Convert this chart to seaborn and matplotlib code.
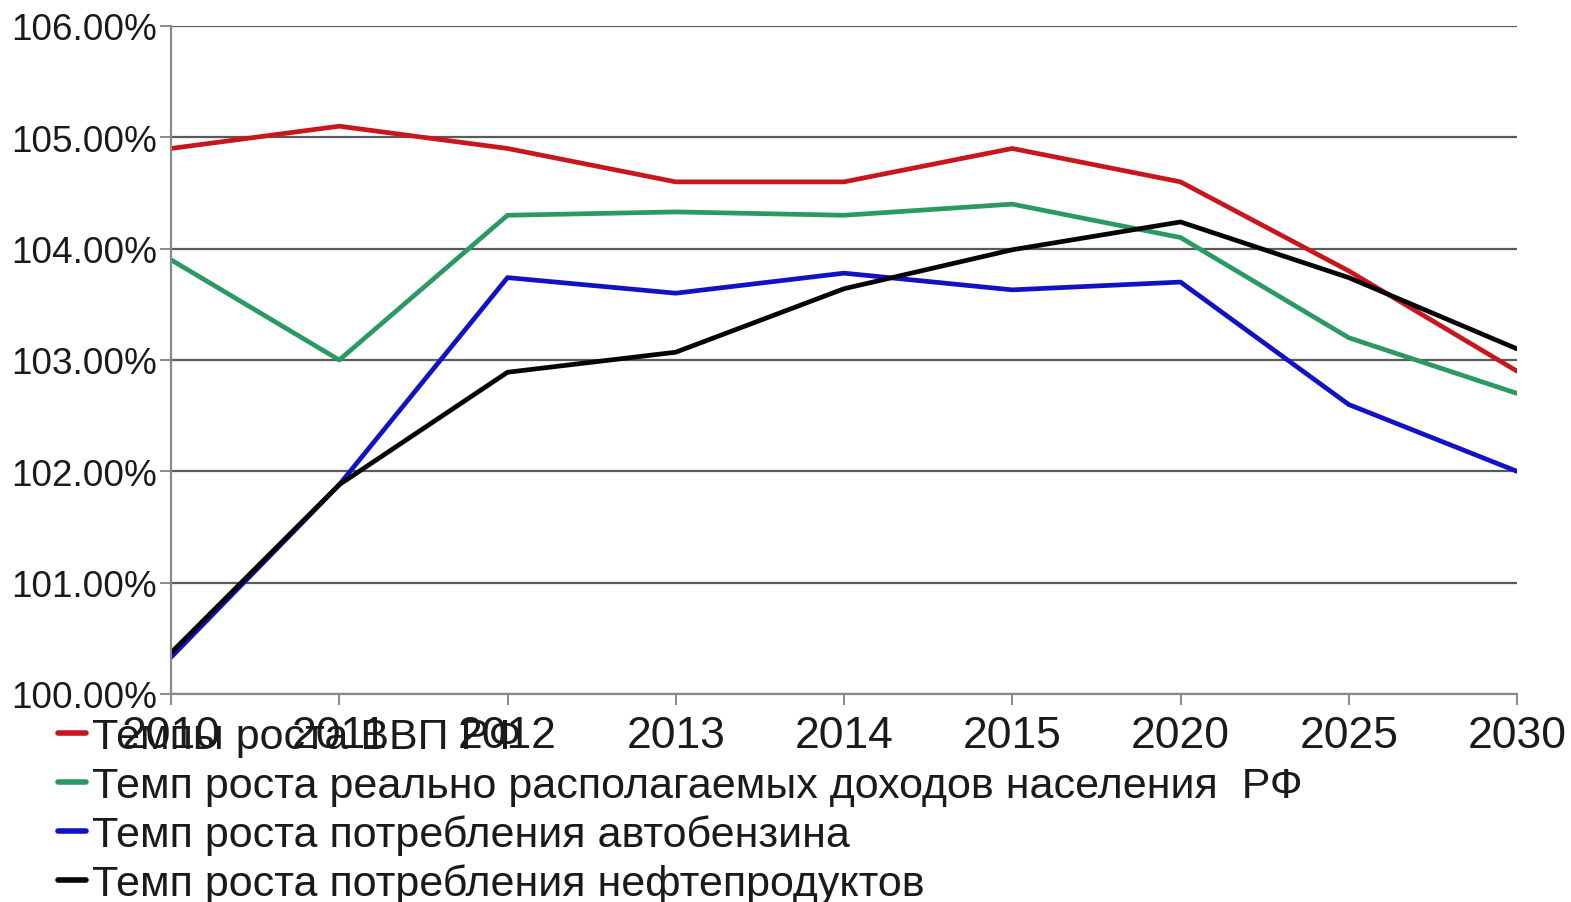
import matplotlib
matplotlib.use("Agg")
import matplotlib.pyplot as plt
import seaborn as sns
import pandas as pd
from matplotlib.ticker import FuncFormatter
from matplotlib.lines import Line2D

years = ["2010", "2011", "2012", "2013", "2014", "2015", "2020", "2025", "2030"]
gdp = [104.90, 105.10, 104.90, 104.60, 104.60, 104.90, 104.60, 103.80, 102.90]
income = [103.90, 103.00, 104.30, 104.33, 104.30, 104.40, 104.10, 103.20, 102.70]
gasoline = [100.33, 101.88, 103.74, 103.60, 103.78, 103.63, 103.70, 102.60, 102.00]
oil_products = [100.37, 101.88, 102.89, 103.07, 103.64, 103.99, 104.24, 103.74, 103.10]

series_names = [
    "Темпы роста ВВП РФ",
    "Темп роста реально располагаемых доходов населения  РФ",
    "Темп роста потребления автобензина",
    "Темп роста потребления нефтепродуктов",
]
series_values = [gdp, income, gasoline, oil_products]
colors = ["#C8161D", "#2A9A62", "#1212C4", "#050505"]

rows = []
for name, vals in zip(series_names, series_values):
    for i, (y, v) in enumerate(zip(years, vals)):
        rows.append({"pos": i, "year": y, "series": name, "value": v})
df = pd.DataFrame(rows)

sns.set_theme(style="white")
plt.rcParams["font.family"] = ["Liberation Sans", "DejaVu Sans"]

fig = plt.figure(figsize=(15.71, 9.03), dpi=100)
ax = fig.add_axes([171 / 1571, 1 - 695 / 903, (1517 - 171) / 1571, (695 - 27) / 903])

sns.lineplot(data=df, x="pos", y="value", hue="series",
             hue_order=series_names, palette=colors, linewidth=3.4, ax=ax,
             legend=False, sort=False)

ax.set_xlim(0, len(years) - 1)
ax.set_ylim(100, 106)
ax.set_xticks(range(len(years)))
ax.set_xticklabels(years)
ax.set_yticks([100, 101, 102, 103, 104, 105, 106])
ax.yaxis.set_major_formatter(FuncFormatter(lambda v, p: f"{v:.2f}%"))
ax.set_xlabel("")
ax.set_ylabel("")

ax.grid(axis="y", color="#5a5a5a", linewidth=1.6)
ax.grid(axis="x", visible=False)
ax.set_axisbelow(True)
for s in ["top", "right"]:
    ax.spines[s].set_visible(False)
for s in ["left", "bottom"]:
    ax.spines[s].set_color("#8a8a8a")
    ax.spines[s].set_linewidth(1.6)

ax.tick_params(axis="y", which="major", direction="out", length=8, width=1.4,
               color="#8a8a8a", labelsize=26.6, pad=2, left=True, labelcolor="#1a1a1a")
ax.tick_params(axis="x", which="major", direction="out", length=8, width=1.4,
               color="#8a8a8a", labelsize=32, pad=7, bottom=True, labelcolor="#1a1a1a")

handles = [Line2D([0], [0], color=c, linewidth=4) for c in colors]
fig.legend(handles, series_names, loc="upper left", bbox_to_anchor=(58 / 1571, 1 - 718 / 903),
           frameon=False, fontsize=31, handlelength=0.65, handletextpad=0.15,
           labelspacing=0.2, borderpad=0, borderaxespad=0, labelcolor="#1a1a1a")

fig.savefig("out.png", dpi=100, facecolor="white")
